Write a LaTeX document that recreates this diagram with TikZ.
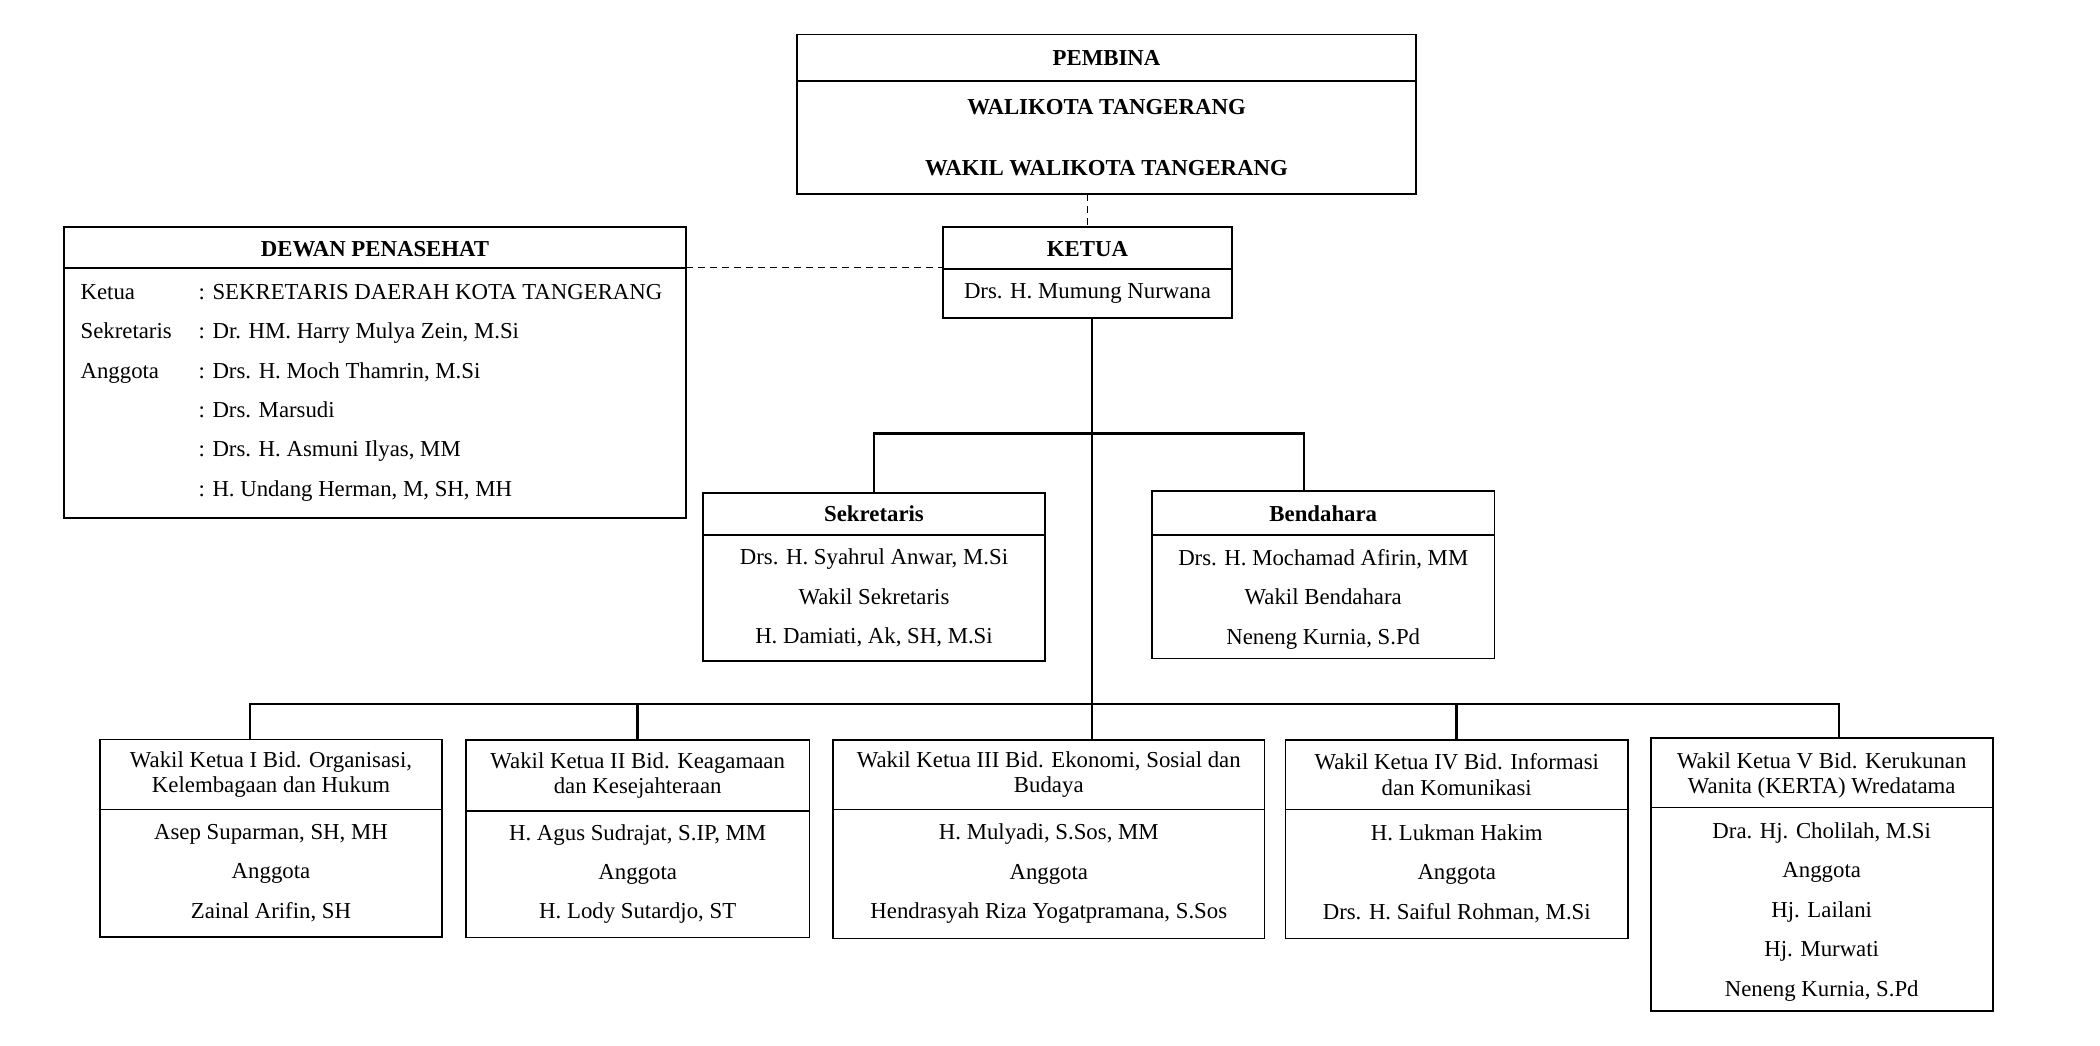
\documentclass[tikz,border=0pt]{standalone}
\usepackage{fontspec}
\setmainfont{Liberation Serif}
\begin{document}
\begin{tikzpicture}[x=1pt,y=-1pt,
  box/.style={draw, line width=1.6pt, inner sep=0pt, outer sep=0pt, anchor=north west, align=center},
  hdr/.style={box, font=\fontsize{22.8}{25.4}\selectfont},
  bdy/.style={box, font=\fontsize{22.8}{39.4}\selectfont},
  conn/.style={line width=2.6pt},
  dashln/.style={line width=1.2pt, dash pattern=on 7pt off 5pt}]
\path[use as bounding box, fill=white] (0,0) rectangle (2100,1045);

% PEMBINA
\node[hdr, minimum width=619pt, minimum height=46.2pt] (pemH) at (797,34.5) {\textbf{PEMBINA}};
\node[box, minimum width=619pt, minimum height=113.3pt, font=\bfseries\fontsize{22.8}{60.7}\selectfont] (pemB) at (797,80.7) {WALIKOTA TANGERANG\\WAKIL WALIKOTA TANGERANG};

% KETUA
\node[hdr, minimum width=289pt, minimum height=41.7pt] (ketH) at (943,227) {\rule{0pt}{18pt}\textbf{KETUA}};
\node[bdy, minimum width=289pt, minimum height=49pt] (ketB) at (943,268.7) {Drs. H. Mumung Nurwana};

% DEWAN PENASEHAT
\node[hdr, minimum width=622pt, minimum height=41pt] (dewH) at (64,226.7) {\rule{0pt}{18pt}\textbf{DEWAN PENASEHAT}};
\node[box, minimum width=622pt, minimum height=250pt, align=left, font=\fontsize{22.8}{39.3}\selectfont] (dewB) at (64,267.7) {%
\makebox[118pt][l]{Ketua}: SEKRETARIS DAERAH KOTA TANGERANG\hspace*{7pt}\\
\makebox[118pt][l]{Sekretaris}: Dr. HM. Harry Mulya Zein, M.Si\\
\makebox[118pt][l]{Anggota}: Drs. H. Moch Thamrin, M.Si\\
\hspace*{118pt}: Drs. Marsudi\\
\hspace*{118pt}: Drs. H. Asmuni Ilyas, MM\\
\hspace*{118pt}: H. Undang Herman, M, SH, MH};

% Sekretaris
\node[hdr, minimum width=342pt, minimum height=42.3pt] (sekH) at (703,492.7) {\textbf{Sekretaris}};
\node[bdy, minimum width=342pt, minimum height=125.7pt] (sekB) at (703,535) {Drs. H. Syahrul Anwar, M.Si\\Wakil Sekretaris\\H. Damiati, Ak, SH, M.Si};

% Bendahara
\node[hdr, minimum width=342.5pt, minimum height=44.3pt] (benH) at (1152,490.7) {\rule{0pt}{18pt}\textbf{Bendahara}};
\node[bdy, minimum width=342.5pt, minimum height=123.3pt] (benB) at (1152,535) {\rule{0pt}{21.5pt}Drs. H. Mochamad Afirin, MM\\Wakil Bendahara\\Neneng Kurnia, S.Pd};

% Wakil Ketua I
\node[hdr, minimum width=342pt, minimum height=70pt] (w1H) at (100,739.3) {Wakil Ketua I Bid. Organisasi,\\Kelembagaan dan Hukum};
\node[bdy, minimum width=342pt, minimum height=127.4pt] (w1B) at (100,809.3) {Asep Suparman, SH, MH\\Anggota\\Zainal Arifin, SH};

% Wakil Ketua II
\node[hdr, minimum width=343.4pt, minimum height=70.7pt] (w2H) at (466,740) {Wakil Ketua II Bid. Keagamaan\\dan Kesejahteraan};
\node[bdy, minimum width=343.4pt, minimum height=126.6pt] (w2B) at (466,810.7) {H. Agus Sudrajat, S.IP, MM\\Anggota\\H. Lody Sutardjo, ST};

% Wakil Ketua III
\node[hdr, minimum width=431.6pt, minimum height=69.3pt] (w3H) at (833,740) {Wakil Ketua III Bid. Ekonomi, Sosial dan\\Budaya};
\node[bdy, minimum width=431.6pt, minimum height=129pt] (w3B) at (833,809.3) {H. Mulyadi, S.Sos, MM\\Anggota\\Hendrasyah Riza Yogatpramana, S.Sos};

% Wakil Ketua IV
\node[hdr, minimum width=342.5pt, minimum height=69.3pt] (w4H) at (1285.5,740) {Wakil Ketua IV Bid. Informasi\\dan Komunikasi};
\node[bdy, minimum width=342.5pt, minimum height=129pt] (w4B) at (1285.5,809.3) {H. Lukman Hakim\\Anggota\\Drs. H. Saiful Rohman, M.Si};

% Wakil Ketua V
\node[hdr, minimum width=342pt, minimum height=69.6pt] (w5H) at (1650.7,737.7) {\rule{0pt}{21.5pt}Wakil Ketua V Bid. Kerukunan\\Wanita (KERTA) Wredatama};
\node[bdy, minimum width=342pt, minimum height=203.4pt] (w5B) at (1650.7,807.3) {\rule{0pt}{21.5pt}Dra. Hj. Cholilah, M.Si\\Anggota\\Hj. Lailani\\Hj. Murwati\\Neneng Kurnia, S.Pd};

% junction coordinates
\coordinate (tb) at (1092,704);
\coordinate (mb) at (1304,433.3);
\coordinate (c1) at (249.8,704);
\coordinate (c5) at (1839,704);

% dashed links
\draw[dashln] (ketH.north |- pemB.south) -- (ketH.north);
\draw[dashln] (dewB.north east) -- (dewB.north east -| ketH.west);

% trunk and bars
\draw[conn] (tb |- ketB.south) -- (tb) -- (tb |- w3H.north);
\draw[conn] (sekH.north) |- (mb) -- (mb |- benH.north);
\draw[conn] (c1 |- w1H.north) -- (c1) -- (c5) -- (c5 |- w5H.north);
\draw[conn] (w2H.north) -- (w2H.north |- c1);
\draw[conn] (w4H.north) -- (w4H.north |- c1);
\end{tikzpicture}
\end{document}
